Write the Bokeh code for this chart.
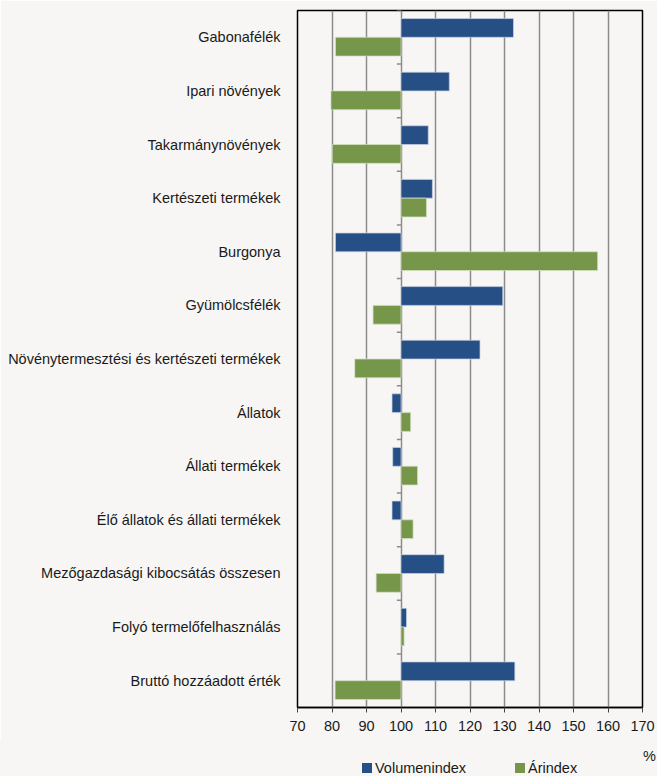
from bokeh.plotting import figure
from bokeh.layouts import column
from bokeh.models import FactorRange, Range1d, ColumnDataSource, Div
from bokeh.transform import dodge
from bokeh.embed import file_html
from bokeh.resources import INLINE

categories = [
    "Gabonafélék",
    "Ipari növények",
    "Takarmánynövények",
    "Kertészeti termékek",
    "Burgonya",
    "Gyümölcsfélék",
    "Növénytermesztési és kertészeti termékek",
    "Állatok",
    "Állati termékek",
    "Élő állatok és állati termékek",
    "Mezőgazdasági kibocsátás összesen",
    "Folyó termelőfelhasználás",
    "Bruttó hozzáadott érték",
]
volumenindex = [132.6, 114.0, 107.9, 109.1, 81.0, 129.5, 122.9, 97.4, 97.6, 97.4, 112.5, 101.6, 133.0]
arindex = [81.0, 79.7, 80.1, 107.4, 157.0, 91.9, 86.6, 102.8, 104.8, 103.5, 92.8, 100.9, 80.9]
x_ticks = [70, 80, 90, 100, 110, 120, 130, 140, 150, 160, 170]
series_names = ["Volumenindex", "Árindex"]
unit_label = "%"
BASE = 100

BLUE = "#264f86"
GREEN = "#76964a"
BG = "#f7f6f4"
FONT = "Liberation Sans"
TXT = "#1a1a1a"
FS = "14.5px"

src = ColumnDataSource(dict(cat=categories, vol=volumenindex, ar=arindex,
                            base=[BASE] * len(categories)))

p = figure(width=657, height=740,
           y_range=FactorRange(*reversed(categories)),
           x_range=Range1d(x_ticks[0], x_ticks[-1]),
           output_backend="svg", toolbar_location=None,
           min_border_left=297, min_border_right=15,
           min_border_top=10, min_border_bottom=33)
p.background_fill_color = BG
p.border_fill_color = BG
p.outline_line_color = "black"
p.outline_line_width = 1.5

# grid
p.xgrid.ticker = x_ticks
p.xgrid.grid_line_color = "#8c8c8c"
p.xgrid.grid_line_width = 1.5
p.ygrid.grid_line_color = None

# category ticks along the 100 line
p.segment(x0=BASE - 1.2, x1=BASE, y0=dodge("cat", 0.5, range=p.y_range),
          y1=dodge("cat", 0.5, range=p.y_range), source=src,
          line_color="#8c8c8c", line_width=1.5)

p.hbar(y=dodge("cat", 0.175, range=p.y_range), left="base", right="vol",
       height=0.35, source=src, fill_color=BLUE,
       line_color="#c9d3e2", line_width=1, line_alpha=0.7)
p.hbar(y=dodge("cat", -0.175, range=p.y_range), left="base", right="ar",
       height=0.35, source=src, fill_color=GREEN,
       line_color="#d6e0c8", line_width=1, line_alpha=0.7)

# x axis
p.xaxis.ticker = x_ticks
p.xaxis.major_label_text_font = FONT
p.xaxis.major_label_text_font_size = FS
p.xaxis.major_label_text_color = TXT
p.xaxis.axis_line_color = "black"
p.xaxis.axis_line_width = 1.5
p.xaxis.major_tick_line_color = "#444444"
p.xaxis.major_tick_out = 5
p.xaxis.major_tick_in = 0
p.xaxis.minor_tick_line_color = None
p.xaxis.major_label_standoff = 8

# y axis
p.yaxis.major_label_text_font = FONT
p.yaxis.major_label_text_font_size = FS
p.yaxis.major_label_text_color = TXT
p.yaxis.axis_line_color = None
p.yaxis.major_tick_line_color = None
p.yaxis.minor_tick_line_color = None
p.yaxis.major_label_standoff = 11

# legend strip (unit label + series keys)
def key(left, color, name):
    return (f'<span style="position:absolute;left:{left}px;top:20px;white-space:nowrap">'
            f'<span style="display:inline-block;width:10px;height:10px;background:{color};'
            f'margin-right:3px"></span>{name}</span>')

html = (f'<div style="position:relative;width:657px;height:36px;overflow:hidden;'
        f'background:{BG};font-family:\'{FONT}\';font-size:{FS};line-height:17px;color:{TXT}">'
        f'<span style="position:absolute;left:643px;top:8px">{unit_label}</span>'
        + key(362, BLUE, series_names[0]) + key(515, GREEN, series_names[1]) +
        '</div>')
legend_div = Div(text=html, width=657, height=36, margin=0)

layout = column(p, legend_div, spacing=0)
open("out.html", "w").write(file_html(layout, INLINE))
